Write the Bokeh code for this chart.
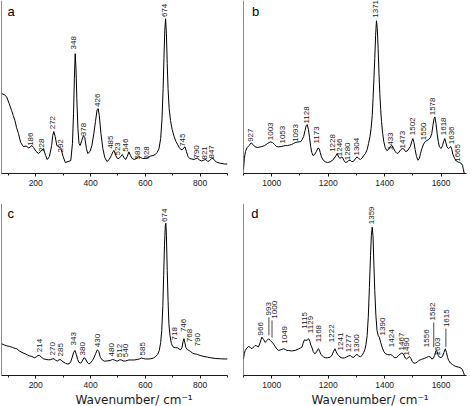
import numpy as np
from bokeh.plotting import figure
from bokeh.models import Range1d, SingleIntervalTicker, Title, Span
from bokeh.layouts import column, row
from bokeh.embed import file_html
from bokeh.resources import INLINE
from bokeh.core.properties import value

# ---------------- data (intensity in arbitrary units) ----------------
a_wn = [75, 85, 94, 103, 112, 118, 124, 130, 137, 145, 155, 165, 175, 186, 192, 200, 210, 218, 228, 236,
        242, 250, 258, 262, 266, 271, 277, 285, 292, 300, 308, 318, 328, 334, 338, 341, 344, 347, 350, 354,
        358, 362, 368, 374, 379, 385, 390, 398, 405, 412, 418, 424, 428, 432, 438, 445, 452, 460, 468, 476,
        482, 486, 492, 498, 504, 510, 516, 522, 528, 534, 540, 546, 552, 560, 567, 576, 583, 590, 600, 610,
        620, 628, 636, 643, 650, 656, 661, 665, 668, 671, 674, 677, 680, 683, 687, 692, 698, 705, 712, 718,
        724, 730, 736, 741, 745, 750, 756, 762, 770, 778, 785, 790, 798, 806, 814, 821, 828, 835, 842, 847,
        853, 860, 870, 880, 890, 900]
a_int = [80, 79, 76.7, 70, 63, 58, 53, 46, 40, 31, 27, 27.5, 25.5, 28, 26, 22.5, 20, 22, 25, 18,
         14, 17, 28, 38, 42, 37, 28, 27, 25, 17, 11, 12, 13, 30, 60, 95, 120, 105, 75, 45,
         30, 28, 33, 38, 36, 25, 20, 22, 28, 40, 52, 64, 65, 58, 40, 25, 16, 12, 14, 18,
         22, 23, 18, 15, 15, 17, 19, 16, 14, 17, 21.7, 18, 15, 14, 15, 16.7, 16, 15, 15, 16,
         17.5, 18, 19, 21, 25, 35, 55, 85, 115, 143, 155, 140, 110, 85, 65, 53, 44, 37, 32, 29,
         26, 24, 24, 26, 26.7, 22, 17, 15, 14.5, 14, 15, 15.5, 13.5, 12.5, 13.5, 14, 12, 13, 15, 15.3,
         13, 11.5, 10.5, 10, 9.5, 9.5]
a_lab = ["186", "228", "272", "292", "348", "378", "426", "485", "523", "546", "583", "628", "674",
         "745", "790", "821", "847"]
a_lab_x = [182, 222, 262, 289, 339, 373.6, 426, 472.5, 497, 526, 572.6, 604, 670, 737.5, 787.6, 814.5, 842.5]
a_lab_y = [27.7, 21.7, 44.3, 21, 124.3, 37.3, 66.7, 24.7, 18, 21.7, 14, 14, 156.7, 26.7, 15, 14, 15]

b_wn = [900, 903, 907, 913, 920, 927, 934, 941, 950, 958, 965, 975, 985, 995, 1003, 1010, 1017, 1024, 1033,
        1041, 1048, 1056, 1063, 1070, 1077, 1083, 1090, 1097, 1103, 1108, 1113, 1118, 1122, 1126, 1130,
        1134, 1138, 1142, 1146, 1152, 1158, 1164, 1168, 1172, 1176, 1182, 1190, 1198, 1207, 1215, 1222,
        1228, 1232, 1237, 1242, 1247, 1251, 1256, 1261, 1267, 1273, 1278, 1283, 1289, 1296, 1302, 1308,
        1314, 1320, 1326, 1332, 1338, 1343, 1348, 1352, 1356, 1359, 1362, 1365, 1368, 1371, 1374, 1377,
        1380, 1383, 1386, 1389, 1393, 1397, 1402, 1408, 1414, 1420, 1426, 1432, 1438, 1444, 1450, 1456,
        1462, 1468, 1474, 1480, 1486, 1491, 1496, 1500, 1504, 1508, 1513, 1518, 1523, 1527, 1532, 1538,
        1544, 1550, 1556, 1562, 1567, 1571, 1575, 1578, 1582, 1586, 1590, 1594, 1600, 1605, 1609, 1613,
        1617, 1621, 1626, 1630, 1634, 1638, 1642, 1648, 1654, 1660, 1666, 1672, 1676, 1679, 1682]
b_int = [4, 15, 22, 26, 28, 30.7, 29, 26.7, 26, 26.5, 27, 28, 30, 31.7, 31, 29, 27, 26.7, 27,
         27.5, 28, 28, 28.5, 29, 30, 31, 31.5, 31.7, 32, 34, 37, 43, 48, 49, 44,
         36, 27, 21, 18, 19, 22, 25.5, 25, 21, 16.7, 13.5, 11.7, 11, 11.7, 13, 15.5,
         18, 20, 16.5, 15, 16.5, 16, 13, 11, 11.5, 13, 13.3, 12, 12, 14.5, 16.7, 15,
         14, 15.5, 18, 20, 24, 30, 37, 45, 58, 75, 95, 115, 138, 153, 145, 125,
         100, 80, 64, 52, 40, 32, 26, 23, 24, 27, 28, 25, 21.7, 20, 21, 23.5,
         25, 24.5, 22, 22.5, 25, 27, 32, 35, 31, 24, 17, 13.3, 15, 20, 25, 29.5,
         32, 33, 34, 36, 40, 48, 55, 56.7, 50, 40, 32, 26.7, 25, 28, 32, 35,
         31, 26.7, 25, 26, 27, 24, 19, 15, 12.5, 11.5, 11, 10, 8, 4, 0]
b_lab = ["927", "1003", "1053", "1093", "1128", "1173", "1228", "1246", "1280", "1304", "1371", "1433",
         "1473", "1502", "1550", "1578", "1618", "1636", "1665"]
b_lab_x = [923.6, 994.6, 1039.5, 1083, 1124.7, 1160, 1217, 1240.5, 1270, 1301, 1369, 1420, 1461.7, 1497,
           1536, 1570, 1609.5, 1636.7, 1657]
b_lab_y = [31.7, 33.3, 30, 31.7, 50, 30, 21.7, 17.3, 13.3, 18, 156, 23.3, 25, 38.3, 33.3, 58.3, 38.3, 29.3, 11.7]

c_wn = [75, 85, 95, 105, 115, 125, 131, 140, 150, 161, 170, 178, 186, 195, 202, 208, 214, 220, 228, 238,
        246, 253, 260, 267, 273, 279, 285, 292, 300, 308, 315, 322, 328, 333, 338, 343, 348, 353, 358, 364,
        370, 376, 381, 387, 393, 400, 407, 413, 419, 425, 430, 436, 443, 450, 460, 472, 480, 487, 494, 500,
        507, 513, 520, 527, 534, 540, 550, 560, 570, 578, 585, 592, 600, 610, 620, 630, 638, 645, 651, 656,
        660, 664, 667, 670, 673, 675, 677, 680, 683, 686, 690, 695, 700, 705, 711, 717, 723, 729, 734, 738,
        741, 744, 748, 753, 759, 765, 772, 778, 784, 790, 800, 814, 827, 839, 855, 875, 890, 900]
c_int = [31.7, 30.5, 29.5, 29, 28, 27, 26.7, 24.5, 23, 21.7, 20.5, 19.5, 19, 17.7, 18.5, 20, 20, 18.5, 16.7, 16,
         15.7, 15.7, 16.5, 16.7, 15, 14.5, 15.7, 15.7, 13.5, 12.3, 11.5, 11.7, 14, 18, 23, 25, 21, 16, 13, 12.3,
         14.5, 17.7, 17, 13.5, 11.7, 12.5, 15, 18, 22, 25.7, 24, 18, 15.5, 14.3, 14.5, 15, 16, 15.5, 14.5, 14.5,
         15.7, 15.5, 14.5, 14.5, 15, 15.5, 15.5, 15.5, 16, 16.5, 17.5, 17, 16.5, 16.5, 16.7, 17.5, 19, 21, 25, 33,
         45, 70, 100, 130, 150, 152, 140, 105, 75, 52, 40, 32, 29, 28, 27.7, 27.7, 26.5, 25.7, 28, 34,
         36.7, 33, 28, 26, 25, 24, 22.5, 21.7, 21.5, 21, 20, 19, 18.3, 17.7, 17, 16.7, 16.5, 16.5]
c_lab = ["214", "270", "285", "343", "380", "430", "480", "512", "540", "585", "674", "718", "746", "768", "790"]
c_lab_x = [213, 261, 289, 337, 372.5, 426, 477.4, 505.5, 527.5, 588.5, 670, 708, 741, 763, 790]
c_lab_y = [23.3, 20, 19, 30, 20, 28.3, 19, 18.3, 18.3, 20, 153.3, 35, 43.3, 33.3, 29]

d_wn = [900, 903, 906, 912, 918, 924, 930, 936, 941, 947, 953, 959, 965, 971, 977, 983, 989, 995, 1000, 1006,
        1012, 1018, 1024, 1030, 1036, 1042, 1048, 1054, 1060, 1070, 1083, 1095, 1102, 1107, 1111, 1116, 1121,
        1126, 1131, 1135, 1139, 1142, 1147, 1152, 1158, 1163, 1166, 1170, 1174, 1178, 1184, 1190, 1198, 1207,
        1214, 1219, 1224, 1228, 1233, 1237, 1242, 1246, 1252, 1258, 1265, 1272, 1278, 1284, 1290, 1296, 1302,
        1308, 1314, 1320, 1326, 1330, 1334, 1338, 1342, 1346, 1350, 1353, 1356, 1359, 1362, 1365, 1369, 1373,
        1377, 1381, 1386, 1391, 1397, 1403, 1410, 1416, 1420, 1425, 1430, 1436, 1442, 1448, 1455, 1460, 1465,
        1469, 1473, 1477, 1482, 1488, 1493, 1498, 1503, 1510, 1516, 1521, 1530, 1540, 1548, 1556, 1562, 1567,
        1572, 1577, 1582, 1586, 1590, 1594, 1600, 1605, 1610, 1615, 1619, 1623, 1627, 1633, 1640, 1645, 1652,
        1663, 1670, 1675, 1679, 1683]
d_int = [16.7, 22, 25, 27.5, 29, 28, 26.7, 28.5, 30, 29.5, 28.5, 33, 38.3, 36, 33, 35, 36.7, 35, 33.5, 31.7,
         29, 26.5, 25, 25.5, 26, 26.7, 26, 25, 25, 24.5, 25, 26.5, 27.5, 28.3, 32, 35.7, 35,
         35.5, 36.7, 34, 30, 28.3, 24, 21.7, 23, 26, 26.7, 24, 21, 20, 18.5, 17.7, 17.7, 18.3,
         20.5, 24, 26.7, 24, 21, 20, 18.5, 17.7, 17.5, 17.5, 18.5, 19.5, 20, 18.5, 18, 20, 21,
         19.5, 18.7, 20, 23, 26, 31, 40, 58, 88, 120, 140, 148, 138, 110, 85, 60, 45,
         40, 38.3, 33, 28.3, 24, 21.7, 21, 20.5, 21, 20.5, 19, 17.7, 18, 19.5, 21.5, 22.3, 22,
         20, 17.5, 16.5, 17.5, 19, 17, 14, 12.3, 12.5, 13.5, 15, 16, 17, 18, 19, 18.5, 16.5,
         17, 20, 25, 24, 20, 18.3, 18, 19, 23, 26.7, 23, 18, 15, 12.5, 11, 10, 9,
         8.3, 7.5, 6, 3.3, 0]
d_lab = ["966", "993", "1000", "1049", "1115", "1129", "1168", "1222", "1241", "1277", "1300", "1359",
         "1390", "1424", "1467", "1490", "1556", "1582", "1603", "1615"]
d_lab_x = [959, 988.7, 1010, 1045, 1116, 1136.5, 1166, 1213, 1243, 1272.5, 1301, 1355, 1390.7, 1424,
           1459, 1479, 1548, 1570.5, 1587, 1617.7]
d_lab_y = [40, 60, 56.7, 31.7, 46.7, 42.3, 33.3, 33.3, 25, 23.3, 23.3, 151, 40, 28.3, 25, 20, 28.3, 55, 20, 48.3]
# leader lines in panel d: x, upper end, lower end
d_lead_x = [990, 1001, 1574, 1617]
d_lead_y0 = [58, 55, 53, 46.7]
d_lead_y1 = [40, 38, 28.3, 28.3]

panel_letters = ["a", "b", "c", "d"]
x_title = "Wavenumber/ cm\u207b\u00b9"

FONT = "Liberation Sans"
INK = "#1a1a1a"


def make_panel(letter, wn, inten, lx, ly, lt, xr, ytop, left, right, bottom, letter_dx, letter_dy,
               title_offset=None):
    p = figure(width=235, height=203, x_range=Range1d(*xr), y_range=Range1d(0, ytop),
               output_backend="svg", toolbar_location=None,
               min_border_left=left, min_border_right=right, min_border_top=0,
               min_border_bottom=bottom)
    p.outline_line_color = None
    p.grid.visible = False
    p.yaxis.visible = False
    p.add_layout(Span(location=xr[0], dimension="height", line_color=INK, line_width=1))
    p.line(wn, inten, line_color="black", line_width=1, line_join="round")
    p.text(x=lx, y=ly, text=lt, angle=np.pi / 2, text_align="left", text_baseline="middle",
           text_font=value(FONT), text_font_size="8px", text_color=INK)
    p.text(x=[xr[0]], y=[ytop], text=[letter], x_offset=letter_dx, y_offset=letter_dy,
           text_align="left", text_baseline="alphabetic",
           text_font=value(FONT), text_font_size="13px", text_color="black")

    xa = p.xaxis[0]
    xa.ticker = SingleIntervalTicker(interval=200, num_minor_ticks=2)
    xa.major_tick_out = 3
    xa.major_tick_in = 0
    xa.minor_tick_out = 2
    xa.minor_tick_in = 0
    xa.axis_line_color = INK
    xa.major_tick_line_color = INK
    xa.minor_tick_line_color = INK
    xa.major_label_text_font = FONT
    xa.major_label_text_font_size = "8.5px"
    xa.major_label_text_color = INK
    xa.major_label_standoff = 3

    if title_offset is not None:
        t = Title(text=x_title, align="left", offset=title_offset, standoff=0,
                  text_font="DejaVu Sans", text_font_size="12px", text_font_style="normal",
                  text_color=INK)
        p.add_layout(t, "below")
    return p


pa = make_panel(panel_letters[0], a_wn, a_int, a_lab_x, a_lab_y, a_lab, (75, 900), 173.3, 1, 8, 30, 6, 11)
pb = make_panel(panel_letters[1], b_wn, b_int, b_lab_x, b_lab_y, b_lab, (900, 1690), 173.3, 8, 4, 30, 8.4, 11)
pc = make_panel(panel_letters[2], c_wn, c_int, c_lab_x, c_lab_y, c_lab, (75, 900), 171.7, 1, 8, 31, 6, 10,
                title_offset=74)
pd_ = make_panel(panel_letters[3], d_wn, d_int, d_lab_x, d_lab_y, d_lab, (900, 1690), 171.7, 8, 4, 31, 7.7, 10,
                 title_offset=68)
pd_.segment(x0=d_lead_x, y0=d_lead_y0, x1=d_lead_x, y1=d_lead_y1, line_color=INK, line_width=0.8)

layout = column(row(pa, pb, spacing=0), row(pc, pd_, spacing=0), spacing=0)
open("out.html", "w").write(file_html(layout, INLINE))
